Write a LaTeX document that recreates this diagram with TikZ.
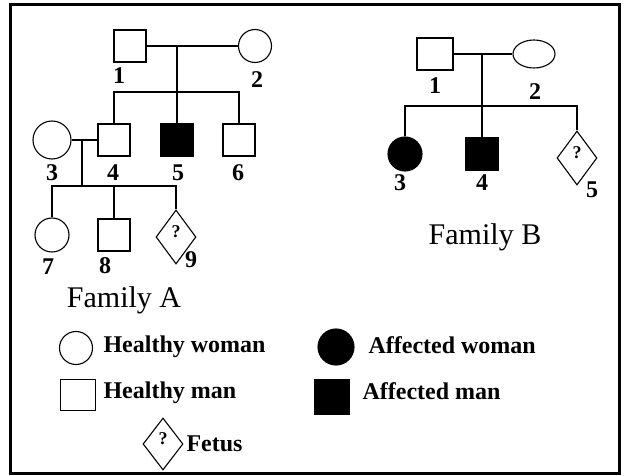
\documentclass[tikz,border=0pt]{standalone}
\usepackage{fontspec}
\setmainfont{Liberation Serif}
\usetikzlibrary{shapes.geometric}
\newcommand{\numfnt}{\fontsize{24}{24}\selectfont\bfseries}
\newcommand{\famfnt}{\fontsize{30}{30}\selectfont}
\newcommand{\legfnt}{\fontsize{24}{24}\selectfont\bfseries}
\newcommand{\qfnt}{\fontsize{18}{18}\selectfont\bfseries}
\tikzset{
  every path/.style={line width=1.1pt},
  man/.style={draw, rectangle, minimum width=32pt, minimum height=32pt, inner sep=0pt},
  woman/.style={draw, circle, minimum size=34pt, inner sep=0pt},
  fetus/.style={draw, diamond, minimum width=40pt, minimum height=54pt, inner sep=0pt},
  affected/.style={fill=black},
  num/.style={inner sep=0pt, font=\numfnt},
  fam/.style={inner sep=0pt, font=\famfnt},
  leg/.style={inner sep=0pt, anchor=west, font=\legfnt},
  qm/.style={inner sep=0pt, font=\qfnt},
}
\begin{document}
\begin{tikzpicture}[x=1pt,y=-1pt]
\useasboundingbox (0,0) rectangle (625,476);
\draw[line width=3pt] (10,5) rectangle (619,473);

% Family A
\node[man] (A1) at (130,46) {};
\node[woman, minimum size=33pt] (A2) at (255,46) {};
\node[woman, minimum size=38pt] (A3) at (52,140) {};
\node[man] (A4) at (114,140) {};
\node[man, affected] (A5) at (177,140) {};
\node[man] (A6) at (239,140) {};
\node[woman] (A7) at (52,235) {};
\node[man] (A8) at (114,235) {};
\node[fetus] (A9) at (176,237) {};
\node[qm] (A9q) at ([yshift=5pt]A9.center) {?};

\coordinate (mA) at (177,46);
\coordinate (sA) at (177,92);
\coordinate (m34) at (82,140);
\coordinate (s34) at (82,186);

\draw (A1.east) -- (A2.west);
\draw (mA) -- (A5.north);
\draw (A4.north) |- (sA) -| (A6.north);
\draw (A3.east) -- (A4.west);
\draw (m34) -- (s34);
\draw (A7.north) |- (s34) -| (A9.north);
\draw (A8.north) -- (A8.north |- s34);

\node[num] (lA1) at (119,76) {1};
\node[num] (lA2) at (257,80) {2};
\node[num] (lA3) at (52,173) {3};
\node[num] (lA4) at (113,173) {4};
\node[num] (lA5) at (178,173) {5};
\node[num] (lA6) at (238,173) {6};
\node[num] (lA7) at (48,267) {7};
\node[num] (lA8) at (105,266) {8};
\node[num] (lA9) at (191,260) {9};
\node[fam] (famA) at (124,300) {Family A};

% Family B
\node[man, minimum width=36pt] (B1) at (435,54) {};
\node[draw, ellipse, minimum width=42pt, minimum height=28pt, inner sep=0pt] (B2) at (534,54) {};
\node[woman, affected] (B3) at (405,154) {};
\node[man, affected, minimum size=33pt] (B4) at (482,154) {};
\node[fetus] (B5) at (577,158) {};
\node[qm] (B5q) at ([yshift=5pt]B5.center) {?};

\coordinate (mB) at (482,54);
\coordinate (sB) at (482,106);
\draw (B1.east) -- (B2.west);
\draw (mB) -- (B4.north);
\draw (B3.north) |- (sB) -| (B5.north);

\node[num] (lB1) at (435,86) {1};
\node[num] (lB2) at (535,92) {2};
\node[num] (lB3) at (400,183) {3};
\node[num] (lB4) at (482,183) {4};
\node[num] (lB5) at (592,190) {5};
\node[fam] (famB) at (485,237) {Family B};

% Legend
\node[woman, minimum size=33pt] (LW) at (76,348) {};
\node[leg] (LWt) at (103,347) {Healthy woman};
\node[man, minimum width=35pt, minimum height=31pt] (LM) at (78,395) {};
\node[leg] (LMt) at (103,393) {Healthy man};
\node[fetus, minimum height=52pt] (LF) at (163,444) {};
\node[qm] (LFq) at ([yshift=5pt]LF.center) {?};
\node[leg] (LFt) at (186,444) {Fetus};
\node[woman, affected, minimum size=36pt] (AW) at (336,347) {};
\node[leg] (AWt) at (368,345) {Affected woman};
\node[man, affected, minimum size=35pt] (AM) at (332,397) {};
\node[leg] (AMt) at (362,391) {Affected man};
\end{tikzpicture}
\end{document}
